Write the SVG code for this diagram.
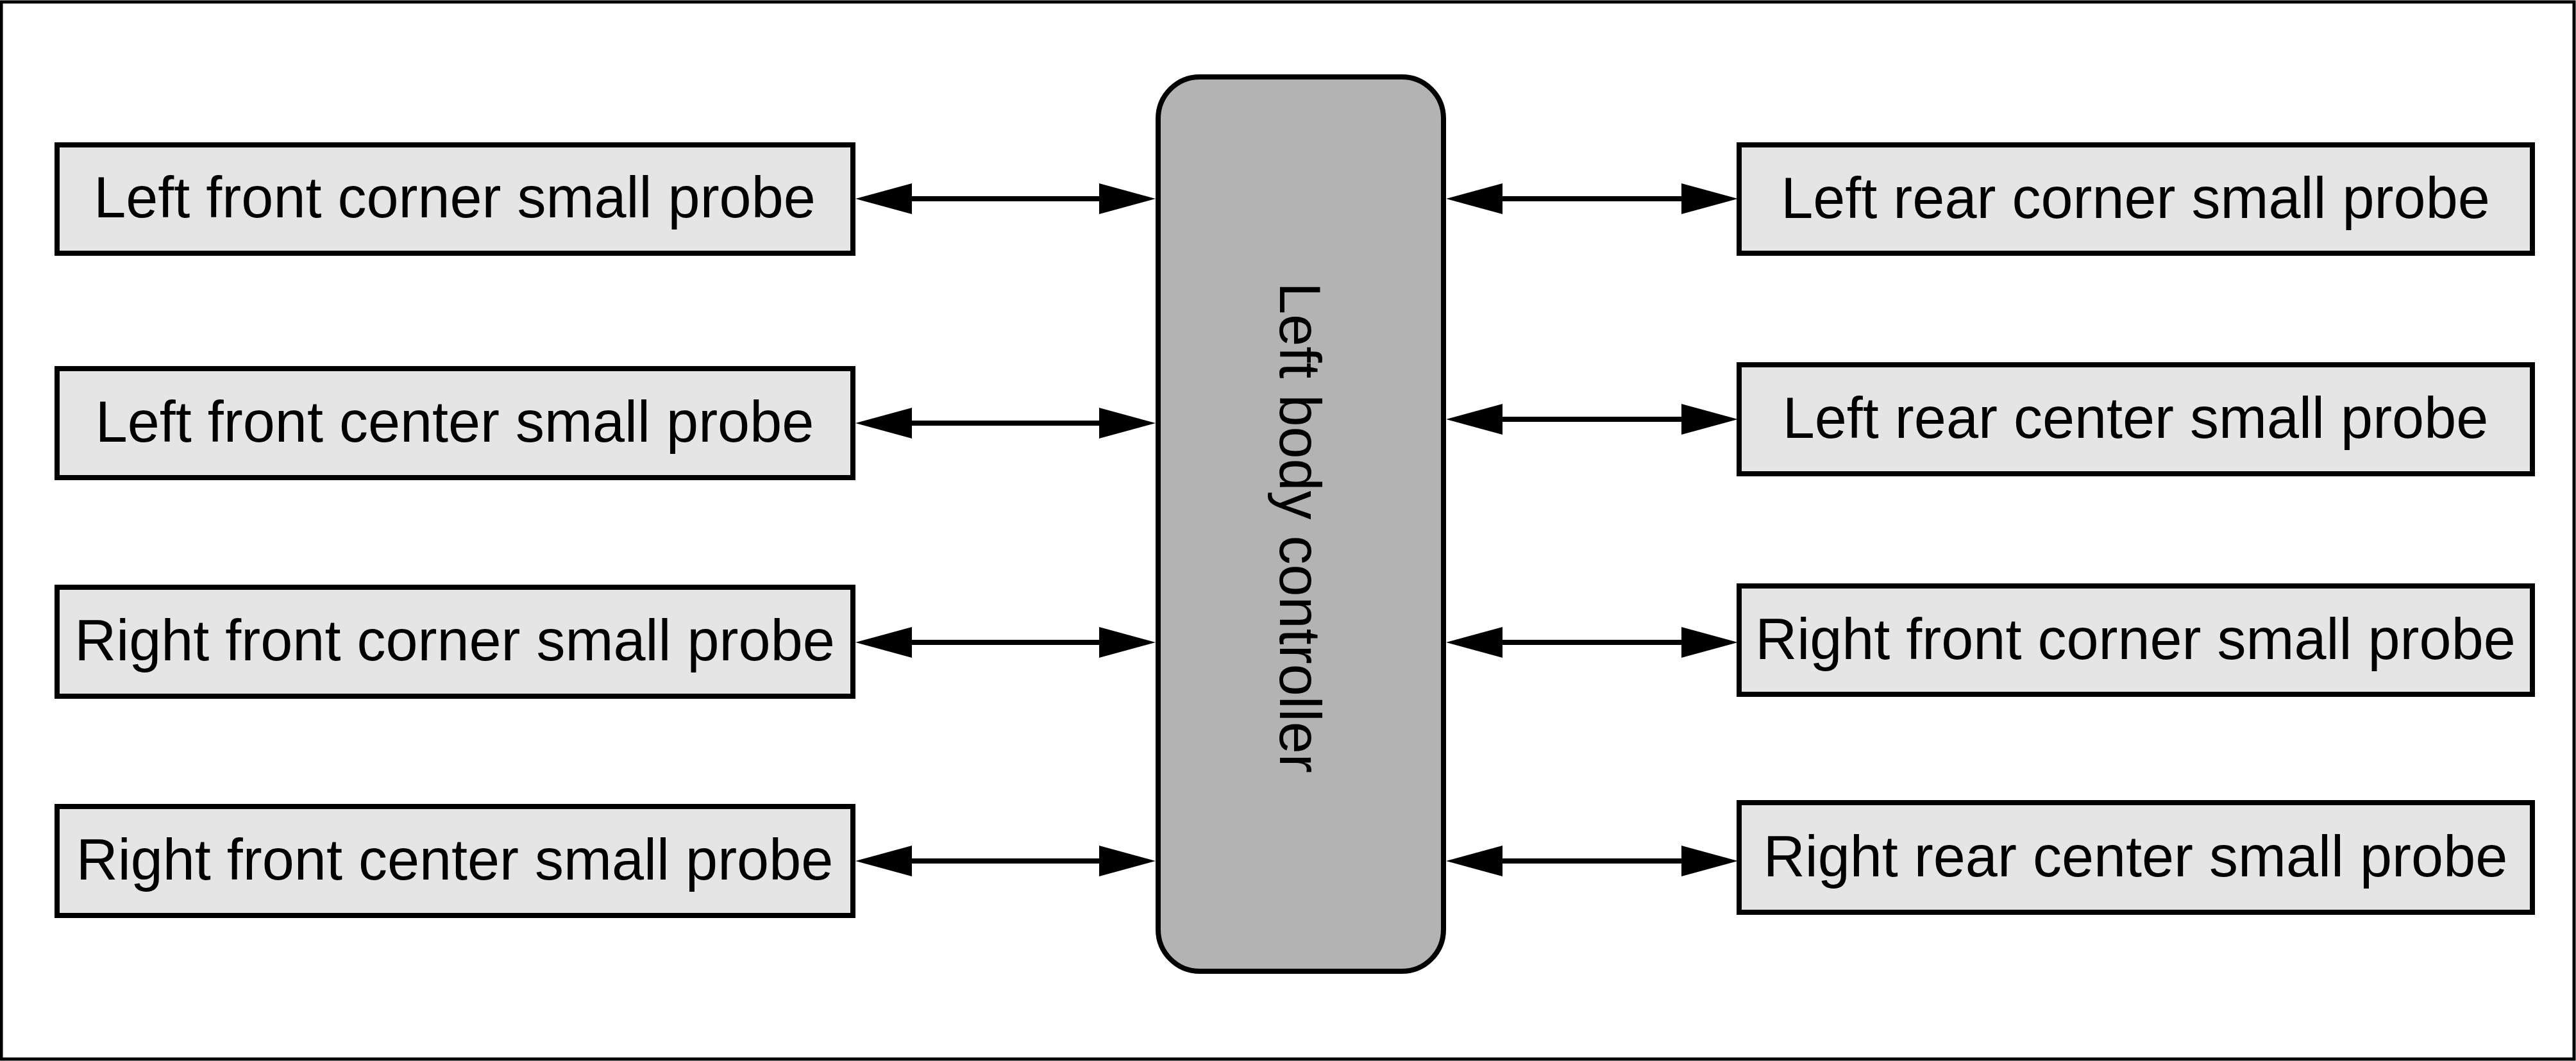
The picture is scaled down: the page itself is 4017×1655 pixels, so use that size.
<svg xmlns="http://www.w3.org/2000/svg" width="4017" height="1655" viewBox="0 0 4017 1655">
  <style>
    .probe rect { fill: #e5e5e5; stroke: #000; stroke-width: 8; }
    .probe text, .ctrl text { font-family: "Liberation Sans", Arial, sans-serif; font-size: 90px; fill: #000; text-anchor: middle; }
    .ctrl rect { fill: #b3b3b3; stroke: #000; stroke-width: 8; }
    .conn line { stroke: #000; stroke-width: 8; fill: none; marker-start: url(#head); marker-end: url(#head); }
  </style>
  <defs>
    <marker id="head" viewBox="0 0 88 48" refX="0" refY="24" markerWidth="88" markerHeight="48" markerUnits="userSpaceOnUse" orient="auto-start-reverse">
      <path d="M0,0 L88,24 L0,48 z" fill="#000"/>
    </marker>
  </defs>
  <rect x="0" y="0" width="4017" height="1655" fill="#fff"/>
  <rect id="frame" x="2" y="3" width="4012" height="1649" fill="none" stroke="#000" stroke-width="5"/>

  <g id="controller" class="ctrl">
    <rect x="1806" y="120" width="445" height="1395" rx="65" ry="65"/>
    <text transform="translate(2028,823) rotate(90)" x="0" y="32">Left body controller</text>
  </g>

  <g id="lf-corner" class="probe">
    <rect x="89" y="226" width="1241" height="169"/>
    <text x="709" y="339">Left front corner small probe</text>
  </g>
  <g id="lf-center" class="probe">
    <rect x="89" y="575" width="1241" height="170"/>
    <text x="709" y="689">Left front center small probe</text>
  </g>
  <g id="rf-corner-l" class="probe">
    <rect x="89" y="916" width="1241" height="170"/>
    <text x="709" y="1030">Right front corner small probe</text>
  </g>
  <g id="rf-center" class="probe">
    <rect x="89" y="1258" width="1241" height="170"/>
    <text x="709" y="1372">Right front center small probe</text>
  </g>

  <g id="lr-corner" class="probe">
    <rect x="2712" y="226" width="1237" height="169"/>
    <text x="3330" y="340">Left rear corner small probe</text>
  </g>
  <g id="lr-center" class="probe">
    <rect x="2712" y="569" width="1237" height="170"/>
    <text x="3330" y="683">Left rear center small probe</text>
  </g>
  <g id="rf-corner-r" class="probe">
    <rect x="2712" y="914" width="1237" height="169"/>
    <text x="3330" y="1028">Right front corner small probe</text>
  </g>
  <g id="rr-center" class="probe">
    <rect x="2712" y="1252" width="1237" height="171"/>
    <text x="3330" y="1367">Right rear center small probe</text>
  </g>

  <g id="connectors" class="conn">
    <line x1="1422" y1="310" x2="1714" y2="310"/>
    <line x1="1422" y1="660" x2="1714" y2="660"/>
    <line x1="1422" y1="1002" x2="1714" y2="1002"/>
    <line x1="1422" y1="1343" x2="1714" y2="1343"/>
    <line x1="2343" y1="310" x2="2622" y2="310"/>
    <line x1="2343" y1="654" x2="2622" y2="654"/>
    <line x1="2343" y1="1002" x2="2622" y2="1002"/>
    <line x1="2343" y1="1343" x2="2622" y2="1343"/>
  </g>
</svg>
